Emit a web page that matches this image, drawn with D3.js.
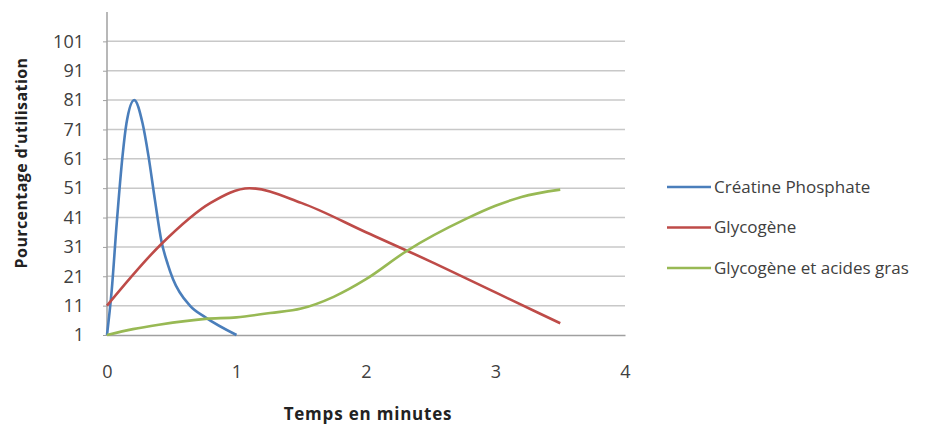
<!DOCTYPE html>
<html><head><meta charset="utf-8">
<script src="https://cdn.jsdelivr.net/npm/d3@7"></script>
<style>body{margin:0;background:#fff}svg{display:block}</style>
</head><body>
<svg id="c" width="945" height="428"></svg>
<script>
const seriesNames = ["Créatine Phosphate", "Glycogène", "Glycogène et acides gras"];
const seriesColors = ["#4a7ebb", "#be4b48", "#98b954"];
const creatineX = [0, 0.036, 0.075, 0.12, 0.15, 0.21, 0.275, 0.32, 0.37, 0.42, 0.47, 0.51, 0.64, 0.76, 1];
const creatineY = [1, 16, 39, 62, 73, 81, 73, 62, 47, 33, 25, 20, 11, 7, 1];
const glycogeneX = [0, 0.42, 0.8, 1.1, 1.5, 2, 2.5, 3, 3.5];
const glycogeneY = [11, 32, 46, 51, 46, 36, 26, 15.5, 5];
const mixteX = [0, 0.2, 0.4, 0.76, 1, 1.26, 1.5, 1.75, 2, 2.31, 2.78, 3, 3.2, 3.5];
const mixteY = [1, 3, 4.5, 6.5, 7, 8.5, 10, 14, 20, 29.5, 40.7, 45, 48, 50.5];
const yTicks = [1, 11, 21, 31, 41, 51, 61, 71, 81, 91, 101];
const xTicks = [0, 1, 2, 3, 4];
const xTitle = "Temps en minutes";
const yTitle = "Pourcentage d\u2019utilisation";

const svg = d3.select("#c");
const x = d3.scaleLinear().domain([0, 4]).range([107, 625]);
const y = d3.scaleLinear().domain([1, 111]).range([335, 12]);
const font = "'Open Sans', 'Liberation Sans', sans-serif";

// gridlines
svg.append("g").selectAll("line").data(yTicks.slice(1)).join("line")
  .attr("x1", x(0)).attr("x2", x(4))
  .attr("y1", d => y(d)).attr("y2", d => y(d))
  .attr("stroke", "#c8c8c8").attr("stroke-width", 1.5);

// y axis
const ya = svg.append("g").attr("transform", `translate(${x(0)},0)`)
  .call(d3.axisLeft(y).tickValues(yTicks).tickSize(4).tickPadding(19));
ya.select(".domain").remove();
svg.append("line").attr("x1", x(0)).attr("x2", x(0)).attr("y1", y(111)).attr("y2", y(1))
  .attr("stroke", "#a0a0a0").attr("stroke-width", 1.5);
ya.selectAll(".tick line").attr("stroke", "#a0a0a0");
ya.selectAll("text").attr("font-family", font).attr("font-size", 18).attr("fill", "#404040");

// x axis
const xa = svg.append("g").attr("transform", `translate(0,${y(1)})`)
  .call(d3.axisBottom(x).tickValues(xTicks).tickSize(0).tickPadding(30).tickFormat(d3.format("d")));
xa.select(".domain").attr("stroke", "#a0a0a0").attr("stroke-width", 1.5);
xa.selectAll("text").attr("font-family", font).attr("font-size", 18).attr("fill", "#404040");

// titles
svg.append("text").attr("x", 368).attr("y", 420).attr("text-anchor", "middle")
  .attr("font-family", font).attr("font-size", 17).attr("letter-spacing", 0.8)
  .attr("font-weight", "bold").attr("fill", "#222").text(xTitle);
svg.append("text").attr("transform", "translate(27,163) rotate(-90)").attr("text-anchor", "middle")
  .attr("font-family", font).attr("font-size", 16).attr("letter-spacing", 0.4)
  .attr("font-weight", "bold").attr("fill", "#222").text(yTitle);

// lines
const series = [
  {xs: creatineX, ys: creatineY},
  {xs: glycogeneX, ys: glycogeneY},
  {xs: mixteX, ys: mixteY}
];
const line = d3.line().x(d => x(d[0])).y(d => y(d[1])).curve(d3.curveMonotoneX);
series.forEach((s, i) => {
  svg.append("path").datum(s.xs.map((v, k) => [v, s.ys[k]]))
    .attr("d", line).attr("fill", "none").attr("stroke", seriesColors[i])
    .attr("stroke-width", 2.6).attr("stroke-linejoin", "round");
});

// legend
const lg = svg.append("g");
seriesNames.forEach((n, i) => {
  const yy = 187 + i * 40.5;
  lg.append("line").attr("x1", 667).attr("x2", 711).attr("y1", yy).attr("y2", yy)
    .attr("stroke", seriesColors[i]).attr("stroke-width", 2.6);
  lg.append("text").attr("x", 714).attr("y", yy).attr("dy", "0.35em")
    .attr("font-family", font).attr("font-size", 17).attr("fill", "#404040").text(n);
});
</script>
</body></html>
